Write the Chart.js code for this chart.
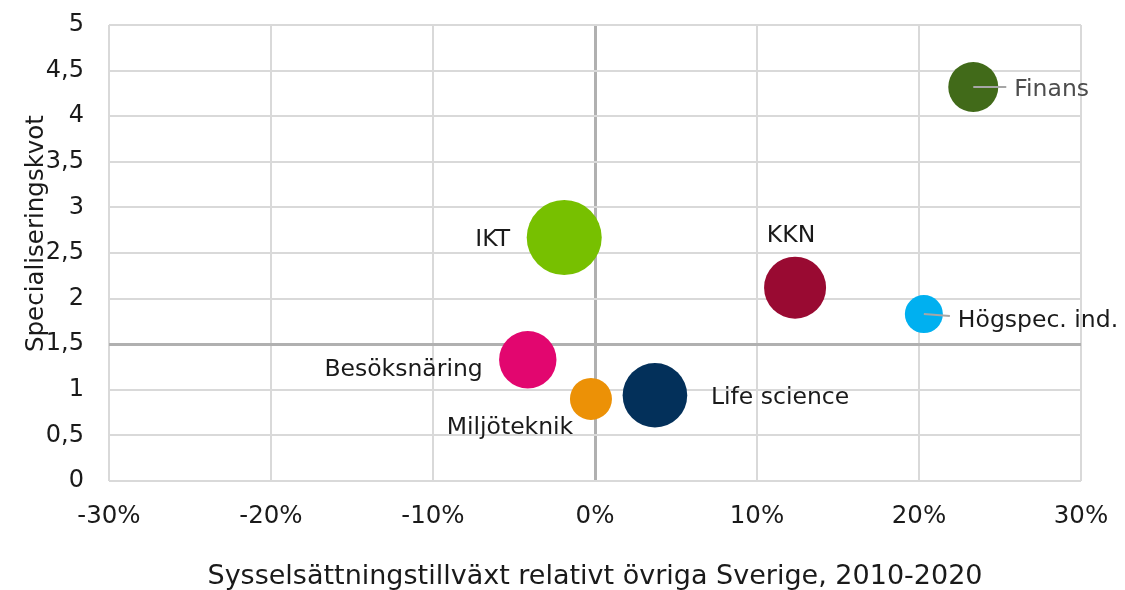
<!DOCTYPE html>
<html>
<head>
<meta charset="utf-8">
<script src="https://cdn.jsdelivr.net/npm/chart.js@4"></script>
<style>
  html, body { margin: 0; padding: 0; background: #fff; }
  #wrap { width: 1125px; height: 590px; }
</style>
</head>
<body>
<div id="wrap"><canvas id="chart" width="1125" height="590"></canvas></div>
<script>
// Branscher och värden
var sectors = ['Finans', 'Högspec. ind.', 'KKN', 'IKT', 'Besöksnäring', 'Miljöteknik', 'Life science'];
var growth = [23.35, 20.3, 12.35, -1.9, -4.15, -0.25, 3.7];      // % relativt övriga Sverige
var quota = [4.32, 1.83, 2.12, 2.67, 1.33, 0.9, 0.94];            // specialiseringskvot
var bubbleSize = [25, 19, 31, 37.5, 28.7, 21, 32.3];             // bubbelradie
var xTickLabels = ['-30%', '-20%', '-10%', '0%', '10%', '20%', '30%'];
var yTickLabels = ['0', '0,5', '1', '1,5', '2', '2,5', '3', '3,5', '4', '4,5', '5'];

var colors = ['#416a19', '#00b0f0', '#990a32', '#77c000', '#e2066f', '#ec9106', '#03305a'];

// Etikettplacering relativt bubblans mitt
var labelStyle = [
  { dx: 41, dy: 3, align: 'left', color: '#4d4d4d', leader: [0, 0, 33, 0] },
  { dx: 34, dy: 7, align: 'left', color: '#1a1a1a', leader: [0, 0, 26, 2] },
  { dx: -4, dy: -52, align: 'center', color: '#1a1a1a' },
  { dx: -54, dy: 2, align: 'right', color: '#1a1a1a' },
  { dx: -45, dy: 10, align: 'right', color: '#1a1a1a' },
  { dx: -81, dy: 29, align: 'center', color: '#1a1a1a' },
  { dx: 56, dy: 3, align: 'left', color: '#1a1a1a' }
];

var FONT = '"DejaVu Sans", Verdana, sans-serif';

var points = sectors.map(function(s, i) {
  return { x: growth[i], y: quota[i], r: bubbleSize[i] };
});

var bubbleLabels = {
  id: 'bubbleLabels',
  afterDatasetsDraw: function(chart) {
    var ctx = chart.ctx;
    var meta = chart.getDatasetMeta(0);
    ctx.save();
    ctx.font = '23.5px ' + FONT;
    ctx.textBaseline = 'middle';
    meta.data.forEach(function(el, i) {
      var st = labelStyle[i];
      if (st.leader) {
        ctx.strokeStyle = '#a6a6a6';
        ctx.lineWidth = 2;
        ctx.beginPath();
        ctx.moveTo(el.x + st.leader[0], el.y + st.leader[1]);
        ctx.lineTo(el.x + st.leader[2], el.y + st.leader[3]);
        ctx.stroke();
      }
      ctx.fillStyle = st.color;
      ctx.textAlign = st.align;
      ctx.fillText(sectors[i], el.x + st.dx, el.y + st.dy);
    });
    ctx.restore();
  }
};

new Chart(document.getElementById('chart').getContext('2d'), {
  type: 'bubble',
  data: {
    datasets: [{
      data: points,
      backgroundColor: colors,
      borderWidth: 0,
      hoverRadius: 0
    }]
  },
  options: {
    responsive: false,
    animation: false,
    events: [],
    layout: { autoPadding: false, padding: { left: 0, right: 44, top: 25, bottom: 0 } },
    plugins: {
      legend: { display: false },
      tooltip: { enabled: false }
    },
    scales: {
      x: {
        type: 'linear',
        min: -30,
        max: 30,
        border: { display: false },
        grid: {
          drawTicks: false,
          color: function(c) { return c.tick && c.tick.value === 0 ? '#b0b0b0' : '#d9d9d9'; },
          lineWidth: function(c) { return c.tick && c.tick.value === 0 ? 3 : 2; }
        },
        ticks: {
          stepSize: 10,
          padding: 21,
          color: '#1a1a1a',
          font: { family: FONT, size: 24.5 },
          maxRotation: 0,
          callback: function(v, i) { return xTickLabels[i]; }
        },
        title: {
          display: true,
          text: 'Sysselsättningstillväxt relativt övriga Sverige, 2010-2020',
          color: '#1a1a1a',
          font: { family: FONT, size: 27, lineHeight: 1 },
          padding: { top: 0, bottom: 0 }
        },
        afterFit: function(s) {
          s.height = 109;
          s.paddingLeft = 0;
          s.paddingRight = 0;
        }
      },
      y: {
        type: 'linear',
        min: 0,
        max: 5,
        border: { display: false },
        grid: {
          drawTicks: false,
          color: function(c) { return c.tick && c.tick.value === 1.5 ? '#b0b0b0' : '#d9d9d9'; },
          lineWidth: function(c) { return c.tick && c.tick.value === 1.5 ? 3 : 2; }
        },
        ticks: {
          stepSize: 0.5,
          padding: 25,
          color: '#1a1a1a',
          font: { family: FONT, size: 24 },
          callback: function(v, i) { return yTickLabels[i]; }
        },
        title: {
          display: true,
          // inledande mellanslag flyttar titeln lite uppåt, som i originalet
          text: '     Specialiseringskvot',
          color: '#1a1a1a',
          font: { family: FONT, size: 24.5 },
          padding: { top: 22, bottom: 0 }
        },
        afterFit: function(s) {
          s.width = 109;
          s.paddingTop = 0;
          s.paddingBottom = 0;
        }
      }
    }
  },
  plugins: [bubbleLabels]
});
</script>
</body>
</html>
